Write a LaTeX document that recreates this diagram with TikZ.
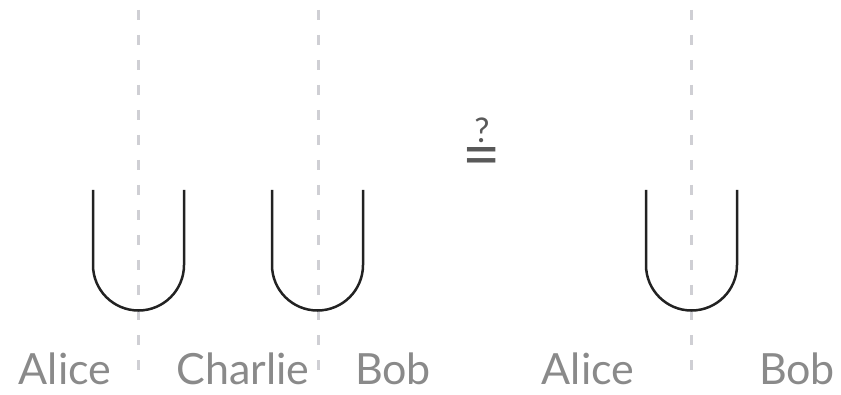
\documentclass[tikz,border=0pt]{standalone}
\usepackage{fontspec}
\setmainfont{Lato}
\usetikzlibrary{positioning}

\definecolor{cutgray}{HTML}{CFCFD4}
\definecolor{labgray}{HTML}{8A8A8A}
\definecolor{cupblack}{HTML}{222222}

\tikzset{
  cut/.style={cutgray,line width=3pt,dash pattern=on 10pt off 15pt},
  cupline/.style={cupblack,line width=2.5pt},
  party/.style={labgray,font=\fontsize{43}{43}\selectfont,anchor=base,inner sep=0pt},
  qsign/.style={text=black!65,inner sep=0pt},
}

\begin{document}
\begin{tikzpicture}[x=1pt,y=1pt]
\useasboundingbox (0,0) rectangle (841,394);
% vertical cuts between the parties
\foreach \c/\xx in {cutA/138,cutB/318,cutC/691}{
  \coordinate (\c top) at (\xx,384);
  \coordinate (\c bot) at (\xx,14);
  \draw[cut] (\c top) -- (\c bot);
}
% cups
\foreach \xx in {93,272,646}{
  \draw[cupline] (\xx,204) -- (\xx,129) arc[start angle=180,end angle=360,radius=45.5] -- ++(0,75);
}
\node[party] (alice) at (65,10) {Alice};
\node[party] (charlie) at (243,10) {Charlie};
\node[party] (bob) at (393,10) {Bob};
\node[party] (alice2) at (588,10) {Alice};
\node[party] (bob2) at (797,10) {Bob};
\node[qsign,font=\fontsize{66}{66}\selectfont] (eq) at (482,231) {=};
\node[qsign,font=\fontsize{34}{34}\selectfont,above=5pt of eq] (qm) {?};
\end{tikzpicture}
\end{document}
